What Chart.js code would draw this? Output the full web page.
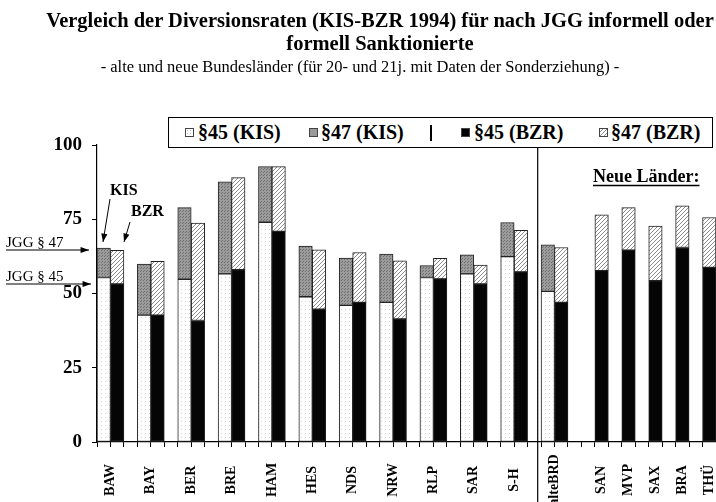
<!DOCTYPE html>
<html lang="de">
<head>
<meta charset="utf-8">
<title>Vergleich der Diversionsraten (KIS-BZR 1994)</title>
<script src="https://cdn.jsdelivr.net/npm/chart.js@4.4.0/dist/chart.umd.min.js"></script>
<style>
  html, body { margin: 0; padding: 0; background: #fff; }
  #wrap { position: relative; width: 716px; height: 502px; overflow: hidden;
          font-family: "Liberation Serif", "Times New Roman", serif; color: #000; }
  #chart { position: absolute; left: 0; top: 0; }
  .title { position: absolute; left: 30px; width: 700px; text-align: center; white-space: nowrap;
           font-weight: bold; font-size: 20.5px; line-height: 23px; }
  .sub { position: absolute; left: 0; width: 720px; text-align: center; white-space: nowrap;
         font-size: 16.5px; line-height: 18px; }
  #legend { position: absolute; left: 168px; top: 117px; width: 543px; height: 29px;
            border: 1px solid #000; background: #fff; font-weight: bold; font-size: 20px; }
  #legend span { position: absolute; top: 3px; line-height: 23px; white-space: nowrap; }
  #legend i { position: absolute; top: 10px; width: 9px; height: 9px; box-sizing: border-box; border: 1px solid #444; }
  #legend b { position: absolute; left: 261px; top: 7px; width: 1.5px; height: 16px; background: #000; }
  .sw45k { background: #fff radial-gradient(#bbb 30%, transparent 31%) 0 0 / 3px 3px; }
  .sw47k { background: #9a9a9a; }
  .sw45b { background: #000; }
  .sw47b { background: repeating-linear-gradient(135deg, #fff 0 1.5px, #888 1.5px 2.8px); }
</style>
</head>
<body>
<div id="wrap">
  <canvas id="chart" width="716" height="502"></canvas>
  <div class="title" style="top:9px">Vergleich der Diversionsraten (KIS-BZR 1994) für nach JGG informell oder</div>
  <div class="title" style="top:32px">formell Sanktionierte</div>
  <div class="sub" style="top:58px">- alte und neue Bundesländer (für 20- und 21j. mit Daten der Sonderziehung) -</div>
  <div id="legend">
    <i class="sw45k" style="left:16px"></i><span style="left:29px">§45 (KIS)</span>
    <i class="sw47k" style="left:140px"></i><span style="left:152px">§47 (KIS)</span>
    <b></b>
    <i class="sw45b" style="left:292px"></i><span style="left:305px">§45 (BZR)</span>
    <i class="sw47b" style="left:430px"></i><span style="left:442px">§47 (BZR)</span>
  </div>
</div>
<script>
// categories (Länder), values in percent
const states = ['BAW', 'BAY', 'BER', 'BRE', 'HAM', 'HES', 'NDS', 'NRW', 'RLP', 'SAR', 'S-H',
                'alteBRD', 'SAN', 'MVP', 'SAX', 'BRA', 'THÜ'];
const kis45 = [55.4, 42.7, 54.8, 56.6, 74.0, 48.9, 46.0, 47.0, 55.4, 56.6, 62.4, 50.7,
               null, null, null, null, null];
const kis47 = [9.9, 17.2, 24.1, 31.0, 18.7, 17.1, 15.9, 16.3, 4.0, 6.4, 11.5, 15.7,
               null, null, null, null, null];
const bzr45 = [53.2, 42.7, 40.9, 58.0, 70.9, 44.7, 47.0, 41.4, 54.9, 53.2, 57.3, 47.0,
               57.7, 64.6, 54.3, 65.5, 58.8];
const bzr47 = [11.3, 18.1, 32.8, 31.0, 21.8, 20.0, 16.8, 19.6, 6.9, 6.4, 14.0, 18.5,
               18.8, 14.3, 18.4, 14.0, 16.8];
const yTicks = [0, 25, 50, 75, 100];

// one category slot per bar: old Länder -> KIS, BZR, gap ; new Länder -> gap, BZR
const slots = [];
const slotOf = {};
states.forEach((s, i) => {
  if (kis45[i] != null) {
    slotOf[s] = { kis: slots.length, bzr: slots.length + 1 };
    slots.push({ i, src: 'KIS' }, { i, src: 'BZR' }, { i: null });
  } else {
    slotOf[s] = { bzr: slots.length + 1 };
    slots.push({ i: null }, { i, src: 'BZR' });
  }
});
const pick = (arr, src) => slots.map(sl => sl.src === src ? arr[sl.i] : null);

const ctx = document.getElementById('chart').getContext('2d');

const makePattern = (size, bg, draw) => {
  const c = document.createElement('canvas');
  c.width = size; c.height = size;
  const g = c.getContext('2d');
  g.fillStyle = bg; g.fillRect(0, 0, size, size);
  draw(g, size);
  return ctx.createPattern(c, 'repeat');
};
const dotsLight = makePattern(4, '#ffffff', g => { g.fillStyle = '#d4d4d4'; g.fillRect(1, 1, 1, 1); });
const dotsGray = makePattern(3, '#9c9c9c', g => { g.fillStyle = '#6e6e6e'; g.fillRect(0, 0, 1, 1); g.fillRect(2, 1, 1, 1); });
const hatch = makePattern(4, '#ffffff', (g, n) => {
  g.strokeStyle = '#8c8c8c'; g.lineWidth = 1;
  g.beginPath();
  g.moveTo(0, n); g.lineTo(n, 0);
  g.moveTo(-1, 1); g.lineTo(1, -1);
  g.moveTo(n - 1, n + 1); g.lineTo(n + 1, n - 1);
  g.stroke();
});

const serif = '"Liberation Serif", "Times New Roman", serif';

const annotate = {
  id: 'annotate',
  afterDraw(chart) {
    const { ctx: c, scales: { x } } = chart;
    const slotW = x.getPixelForValue(1) - x.getPixelForValue(0);
    c.save();
    c.fillStyle = '#000'; c.strokeStyle = '#000';

    // separator alte / neue Länder
    const sep = x.getPixelForValue(slotOf['alteBRD'].kis - 1) + slotW * 0.25;
    c.lineWidth = 1.2;
    c.beginPath(); c.moveTo(sep, 146); c.lineTo(sep, 502); c.stroke();

    // category labels, rotated, centred on y=480
    c.font = 'bold 14px ' + serif;
    c.textAlign = 'center'; c.textBaseline = 'middle';
    states.forEach(s => {
      const so = slotOf[s];
      const px = so.kis != null
        ? (x.getPixelForValue(so.kis) + x.getPixelForValue(so.bzr)) / 2
        : x.getPixelForValue(so.bzr);
      c.save(); c.translate(px, 480); c.rotate(-Math.PI / 2); c.fillText(s, 0, 0); c.restore();
    });

    const arrow = (x1, y1, x2, y2, head) => {
      c.beginPath(); c.moveTo(x1, y1); c.lineTo(x2, y2); c.stroke();
      const a = Math.atan2(y2 - y1, x2 - x1);
      c.beginPath();
      c.moveTo(x2, y2);
      c.lineTo(x2 - head * Math.cos(a - 0.35), y2 - head * Math.sin(a - 0.35));
      c.lineTo(x2 - head * Math.cos(a + 0.35), y2 - head * Math.sin(a + 0.35));
      c.closePath(); c.fill();
    };

    // KIS / BZR pointers
    c.font = 'bold 16px ' + serif;
    c.textAlign = 'left'; c.textBaseline = 'alphabetic';
    c.fillText('KIS', 110, 195);
    c.fillText('BZR', 131, 216);
    c.lineWidth = 1;
    arrow(110, 199, 103, 242, 9);
    arrow(130, 222, 124, 242, 9);

    // JGG markers on the left
    c.font = '15px ' + serif;
    c.fillText('JGG § 47', 6, 247);
    c.fillText('JGG § 45', 6, 281);
    arrow(6, 250, 89, 250, 9);
    arrow(6, 284, 91, 284, 9);

    // Neue Länder
    c.font = 'bold 18px ' + serif;
    const t = 'Neue Länder:';
    c.fillText(t, 593, 182);
    c.lineWidth = 1.5;
    c.beginPath(); c.moveTo(593, 185.5); c.lineTo(593 + c.measureText(t).width, 185.5); c.stroke();
    c.restore();
  }
};

const seg = (label, data, fill) => ({
  label, data, backgroundColor: fill,
  borderColor: '#222', borderWidth: 1, borderSkipped: false,
  barPercentage: 1, categoryPercentage: 1
});

new Chart(ctx, {
  type: 'bar',
  data: {
    labels: slots.map((s, k) => String(k)),
    datasets: [
      seg('§45 (KIS)', pick(kis45, 'KIS'), dotsLight),
      seg('§47 (KIS)', pick(kis47, 'KIS'), dotsGray),
      seg('§45 (BZR)', pick(bzr45, 'BZR'), '#050505'),
      seg('§47 (BZR)', pick(bzr47, 'BZR'), hatch)
    ]
  },
  options: {
    responsive: false,
    animation: false,
    layout: { padding: { top: 145, right: 0, bottom: 0, left: 0 } },
    plugins: { legend: { display: false }, tooltip: { enabled: false } },
    scales: {
      x: {
        stacked: true,
        afterFit: s => { s.height = 60; },
        ticks: { display: false },
        grid: { offset: true, drawOnChartArea: false, tickLength: 5, color: '#000' },
        border: { color: '#000', width: 1.2 }
      },
      y: {
        stacked: true,
        min: 0, max: 100,
        afterFit: s => { s.width = 97; },
        afterBuildTicks: s => { s.ticks = yTicks.map(v => ({ value: v })); },
        ticks: { color: '#000', padding: 10, font: { family: serif, size: 19, weight: 'bold' } },
        grid: { drawOnChartArea: false, tickLength: 5, color: '#000' },
        border: { color: '#000', width: 1.2 }
      }
    }
  },
  plugins: [annotate]
});
</script>
</body>
</html>
